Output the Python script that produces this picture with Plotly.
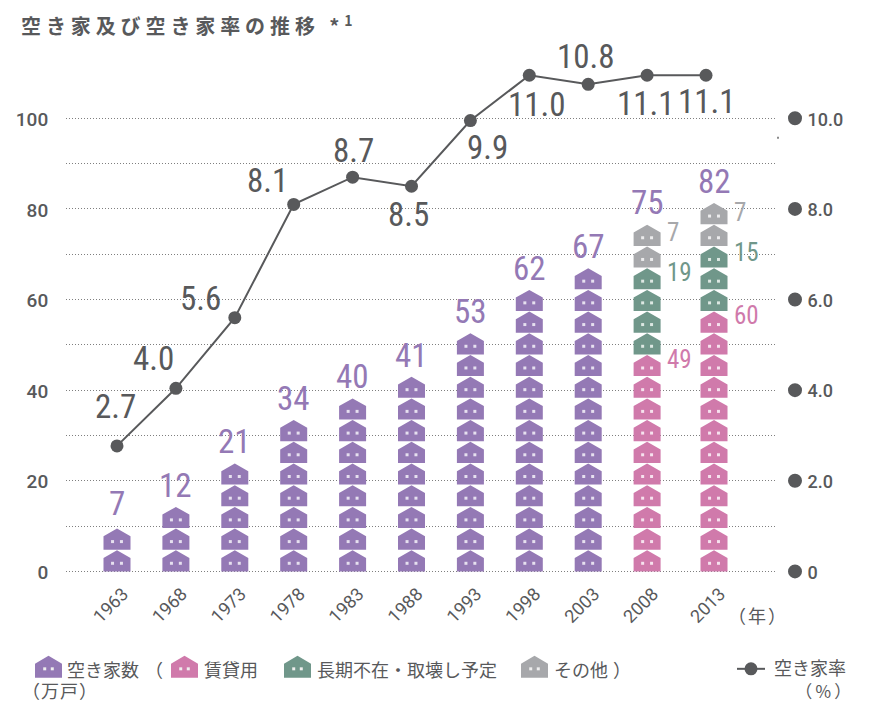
import math
import plotly.graph_objects as go

# ---- data ----
years = ["1963", "1968", "1973", "1978", "1983", "1988", "1993", "1998", "2003", "2008", "2013"]
year_pos = [1963, 1968, 1973, 1978, 1983, 1988, 1993, 1998, 2003, 2008, 2013.68]
rate_pos = [1963, 1968, 1973, 1978, 1983, 1988, 1993, 1998, 2003, 2008, 2013]
totals = [7, 12, 21, 34, 40, 41, 53, 62, 67, 75, 82]
vacant = [7, 12, 21, 34, 40, 41, 53, 62, 67, 0, 0]
rental = [0, 0, 0, 0, 0, 0, 0, 0, 0, 49, 60]
long_absent = [0, 0, 0, 0, 0, 0, 0, 0, 0, 19, 15]
other = [0, 0, 0, 0, 0, 0, 0, 0, 0, 7, 7]
rate_plotted = [2.77, 4.04, 5.6, 8.1, 8.7, 8.5, 9.95, 10.95, 10.75, 10.95, 10.95]
rate_labels = ["2.7", "4.0", "5.6", "8.1", "8.7", "8.5", "9.9", "11.0", "10.8", "11.1", "11.1"]
left_ticks = [0, 20, 40, 60, 80, 100]
left_minor = [10, 30, 50, 70, 90]
right_ticks = [0, 2, 4, 6, 8, 10]
right_ticktext = ["0", "2.0", "4.0", "6.0", "8.0", "10.0"]

# ---- styling / layout ----
PURPLE, PINK, GREEN, GRAY = "#9479b5", "#d07aab", "#70978a", "#a7a8ab"
DARK = "#58595b"
L, R, Y0, Y100 = 66.0, 776.0, 571.5, 118.0
PX_Y = (Y0 - Y100) / 100
PX_YEAR = 11.78
XMIN = 1963 - (117 - L) / PX_YEAR
XMAX = 1963 + (R - 117) / PX_YEAR
YMAX = 125.0
YMIN = -3.0
TOP = Y0 - YMAX * PX_Y
BOT = Y0 - YMIN * PX_Y
W, H = 875, 703
BIG = "Roboto Condensed, Roboto"
NUM = "Roboto"
JP = "Noto Sans CJK JP"

HW = 27 / PX_YEAR / 2
HH = 21.72 / PX_Y
DRAW = 21.1 / PX_Y
ROOF = 7.7 / PX_Y


def px2x(px):
    return (px - L) / (R - L)


def px2y(py):
    return (BOT - py) / (BOT - TOP)


def houses(name, values, color, tint, bases):
    xs, ys, wx, wy = [], [], [], []
    for i, v in enumerate(values):
        n = math.ceil(v / 5)
        for k in range(n):
            c, b = year_pos[i], (bases[i] + k) * HH
            xs += [c - HW, c + HW, c + HW, c, c - HW, c - HW, None]
            ys += [b, b, b + DRAW - ROOF, b + DRAW, b + DRAW - ROOF, b, None]
            wx += [c - HW * 0.33, c + HW * 0.33]
            wy += [b + DRAW * 0.385] * 2
        bases[i] += n
    return [
        go.Scatter(x=xs, y=ys, mode="lines", fill="toself", fillcolor=color, line=dict(width=0),
                   name=name, showlegend=False, hoverinfo="skip"),
        go.Scatter(x=wx, y=wy, mode="markers", marker=dict(symbol="square", size=3, color=tint),
                   showlegend=False, hoverinfo="skip"),
    ]


fig = go.Figure()
bases = [0] * len(years)
for nm, vals, col, tint in [("空き家数", vacant, PURPLE, "#e6e0ef"), ("賃貸用", rental, PINK, "#f6e2ee"),
                            ("長期不在・取壊し予定", long_absent, GREEN, "#dde8e3"), ("その他", other, GRAY, "#ececed")]:
    for t in houses(nm, vals, col, tint, bases):
        fig.add_trace(t)

fig.add_trace(go.Scatter(x=rate_pos, y=rate_plotted, yaxis="y2", mode="lines+markers", name="空き家率",
                         line=dict(color=DARK, width=2), marker=dict(size=13, color=DARK), showlegend=False))

ann = []
# rate labels: offset from each point, in pixels
rate_dx = [-2, -22, -34, -26, 1, -3, 17, 8, -2, -1, 1]
rate_dy = [39, 30, 19, 24, 27, -28, -27, -29, 28, -28, -26]
for x, v, t, dx, dy in zip(rate_pos, rate_plotted, rate_labels, rate_dx, rate_dy):
    ann.append(dict(x=x, y=v, yref="y2", text=t, showarrow=False, xshift=dx, yshift=dy,
                    font=dict(family=BIG, size=33, color=DARK)))
# totals above stacks
levels = [2, 3, 5, 7, 8, 9, 11, 13, 14, 16, 17]
extra = [4, 0, 0, 0, 0, 0, 0, 0, 0, 1, 0]
for x, v, lvl, e in zip(year_pos, totals, levels, extra):
    ann.append(dict(x=x, y=lvl * HH, text=str(v), showarrow=False, yshift=21 + e,
                    font=dict(family=BIG, size=33, color=PURPLE)))
# component labels beside the 2008 and 2013 stacks
sides = [(9, 49, PINK, 10, -5), (9, 19, GREEN, 14, -5), (9, 7, GRAY, 16, -8),
         (10, 60, PINK, 12, -5), (10, 15, GREEN, 15, -7), (10, 7, GRAY, 17, -10)]
for i, v, c, lvl, dy in sides:
    ann.append(dict(x=year_pos[i], y=lvl * HH, text=str(v), showarrow=False, xanchor="left", xshift=18, yshift=dy,
                    font=dict(family=BIG, size=25, color=c)))


def label(px, py, text, anchor="left", size=18):
    ann.append(dict(xref="paper", yref="paper", x=px2x(px), y=px2y(py), text=text, showarrow=False, borderpad=0,
                    xanchor=anchor, yanchor="middle", font=dict(family=JP, size=size, color=DARK)))


label(730, 615, "（年）")
label(66, 669, "空き家数")
label(144, 669, "（")
label(203, 669, "賃貸用")
label(316, 669, "長期不在・取壊し予定")
label(553, 669, "その他")
label(612, 669, "）")
label(773, 667, "空き家率")
label(798, 691, "（％）", size=17)
label(23, 690, "（万戸）")

shapes = []
for px0, col in [(35, PURPLE), (171, PINK), (284, GREEN), (521, GRAY)]:
    x0, x1, xm = px2x(px0), px2x(px0 + 27), px2x(px0 + 13.5)
    yb, ye, yt = px2y(678), px2y(664), px2y(656)
    shapes.append(dict(type="path", xref="paper", yref="paper", fillcolor=col, line=dict(width=0),
                       path=f"M{x0},{yb} L{x1},{yb} L{x1},{ye} L{xm},{yt} L{x0},{ye} Z"))
    for f in (0.36, 0.64):
        xc = px2x(px0 + 27 * f)
        shapes.append(dict(type="rect", xref="paper", yref="paper", fillcolor="#eeeeee", line=dict(width=0),
                           x0=xc - 1.5 / (R - L), x1=xc + 1.5 / (R - L), y0=px2y(670.5), y1=px2y(667.5)))
shapes.append(dict(type="line", xref="paper", yref="paper", x0=px2x(737), x1=px2x(765), y0=px2y(669), y1=px2y(669),
                   line=dict(color=DARK, width=2)))
shapes.append(dict(type="circle", xref="paper", yref="paper", x0=px2x(744.5), x1=px2x(757.5), y0=px2y(675.5), y1=px2y(662.5),
                   fillcolor=DARK, line=dict(width=0)))
shapes.append(dict(type="rect", xref="paper", yref="paper", x0=px2x(777), x1=px2x(779), y0=px2y(138.5), y1=px2y(136.5),
                   fillcolor="#8a8a8a", line=dict(width=0)))
for v in right_ticks:
    shapes.append(dict(type="circle", xref="paper", yref="y2", xsizemode="pixel", ysizemode="pixel",
                       xanchor=px2x(795), yanchor=v, x0=-7, x1=7, y0=-7, y1=7, fillcolor=DARK, line=dict(width=0)))

fig.update_layout(
    width=W, height=H, autosize=False,
    margin=dict(l=L, r=W - R, t=TOP, b=H - BOT, pad=0),
    paper_bgcolor="white", plot_bgcolor="white", showlegend=False,
    title=dict(text="空き家及び空き家率の推移 *<sup>1</sup>", x=21 / W, xanchor="left", xref="container",
               y=1 - 27 / H, yanchor="middle", yref="container",
               font=dict(family=JP, size=20, color=DARK, weight="bold")),
    xaxis=dict(range=[XMIN, XMAX], tickmode="array", tickvals=year_pos, ticktext=years, tickangle=-45,
               showgrid=False, zeroline=False, showline=False, ticks="", ticklabelstandoff=-6, ticklabelshift=6,
               tickfont=dict(family=NUM, size=18, color=DARK)),
    yaxis=dict(range=[YMIN, YMAX], tickmode="array", tickvals=left_ticks,
               showgrid=True, gridcolor="#7f7f7f", gridwidth=1, griddash="1px,2px", zeroline=False, showline=False,
               ticks="outside", ticklen=13, tickcolor="rgba(0,0,0,0)", tickwidth=1, ticklabelshift=1,
               minor=dict(tickmode="array", tickvals=left_minor, showgrid=True, gridcolor="#7f7f7f", gridwidth=1,
                          griddash="1px,2px", ticks=""),
               tickfont=dict(family=NUM, size=19, color=DARK, weight=500)),
    yaxis2=dict(range=[YMIN / 10, YMAX / 10], overlaying="y", side="right", tickmode="array", tickvals=right_ticks,
                ticktext=right_ticktext, showgrid=False, zeroline=False, showline=False,
                ticks="outside", ticklen=27, tickcolor="rgba(0,0,0,0)", tickwidth=1, ticklabelshift=1,
                tickfont=dict(family=NUM, size=18, color=DARK, weight=500)),
    annotations=ann, shapes=shapes,
)

POST = """
document.body.style.margin='0';
document.querySelectorAll('.gtitle').forEach(function(t){t.style.letterSpacing='4.9px';});
var sp={'（年）':'2px','（％）':'2.5px','（万戸）':'1px'};
document.querySelectorAll('.annotation-text').forEach(function(t){var s=sp[t.textContent];if(s){t.style.letterSpacing=s;}});
"""
fig.write_html("out.html", post_script=POST, config={"displayModeBar": False})
